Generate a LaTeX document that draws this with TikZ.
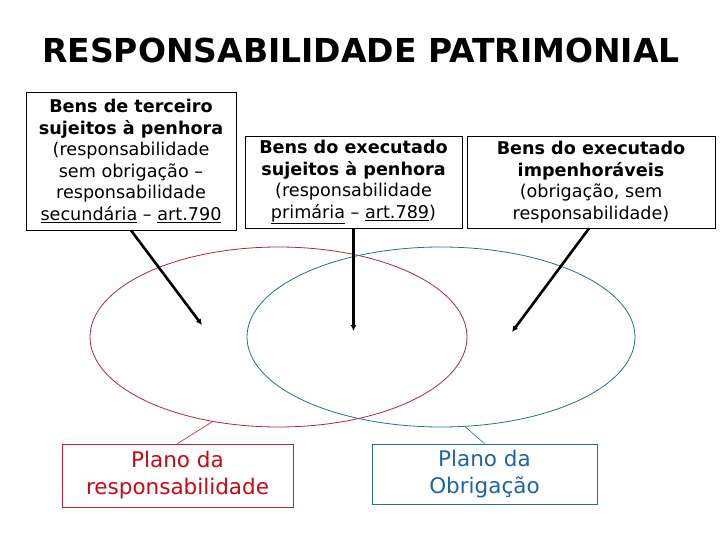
\documentclass[tikz,border=0pt]{standalone}
\usepackage{fontspec}
\setmainfont{DejaVu Sans}
\usetikzlibrary{shapes.geometric,arrows.meta}
\definecolor{redline}{RGB}{185,35,55}
\definecolor{redtext}{RGB}{200,10,20}
\definecolor{blueline}{RGB}{40,110,145}
\definecolor{bluetext}{RGB}{30,100,165}
\newcommand{\bl}[1]{{\bfseries #1}}
\begin{document}
\begin{tikzpicture}[x=1pt,y=-1pt,
  topbox/.style={draw=black,line width=0.8pt,fill=white,inner sep=0pt,align=center,
    font=\fontsize{17.6}{21.5}\selectfont},
  botbox/.style={draw,line width=0.8pt,inner sep=0pt,align=center,
    font=\fontsize{21.5}{27}\selectfont},
  ell/.style={ellipse,draw,line width=0.8pt,inner sep=0pt},
  arr/.style={line width=2.6pt,-{Latex[length=6pt,width=6pt]}},
  tie/.style={line width=0.6pt}]
\useasboundingbox (0,0) rectangle (720,540);
\node[font=\fontsize{33}{36}\bfseries\selectfont] (title) at (361,50) {RESPONSABILIDADE PATRIMONIAL};
\node[ell,draw=redline,minimum width=377pt,minimum height=180pt] (redell) at (278.5,337) {};
\node[ell,draw=blueline,minimum width=388pt,minimum height=180pt] (blueell) at (441,337) {};
\node[topbox,minimum width=210pt,minimum height=138pt] (b1) at (131,161)
  {\bl{Bens de terceiro}\\\bl{sujeitos à penhora}\\(responsabilidade\\sem obrigação –\\responsabilidade\\\underline{secundária} – \underline{art.790}};
\node[topbox,minimum width=217pt,minimum height=92pt] (b2) at (353.5,182)
  {\bl{Bens do executado}\\\bl{sujeitos à penhora}\\(responsabilidade\\\underline{primária} – \underline{art.789})};
\node[topbox,minimum width=248pt,minimum height=92pt] (b3) at (591,182)
  {\bl{Bens do executado}\\\bl{impenhoráveis}\\(obrigação, sem\\responsabilidade)};
\node[botbox,draw=redline,text=redtext,minimum width=231pt,minimum height=63pt] (rb) at (177.5,475.5)
  {Plano da\\responsabilidade};
\node[botbox,draw=blueline,text=bluetext,minimum width=225pt,minimum height=60pt] (bb) at (484.5,474)
  {Plano da\\Obrigação};
\coordinate (e1) at (202,325);
\coordinate (e2) at (353.5,331);
\coordinate (e3) at (512,332);
\draw[arr] (b1.south) -- (e1);
\draw[arr] (b2.south) -- (e2);
\draw[arr] ([xshift=-2pt]b3.south) -- (e3);
\draw[tie,redline] (rb.north) -- (redell.232.7);
\draw[tie,blueline] (bb.north) -- (blueell.285.5);
\end{tikzpicture}
\end{document}
